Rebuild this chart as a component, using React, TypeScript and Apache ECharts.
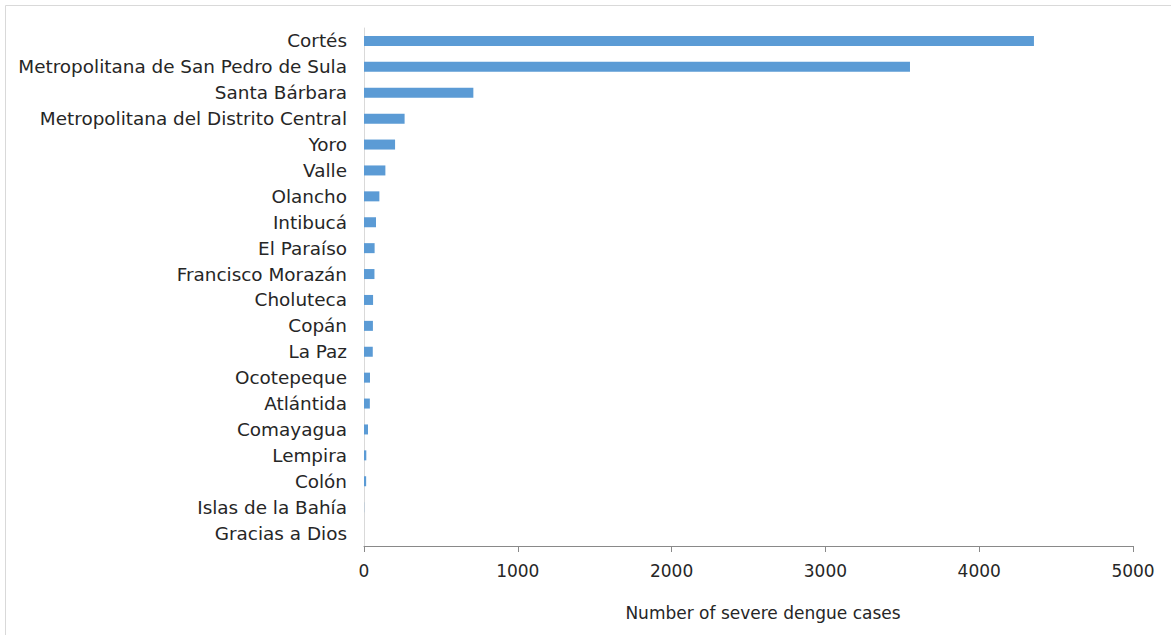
import React, { useEffect, useRef } from "react";
import * as echarts from "echarts";

const categories = [
  "Cortés",
  "Metropolitana de San Pedro de Sula",
  "Santa Bárbara",
  "Metropolitana del Distrito Central",
  "Yoro",
  "Valle",
  "Olancho",
  "Intibucá",
  "El Paraíso",
  "Francisco Morazán",
  "Choluteca",
  "Copán",
  "La Paz",
  "Ocotepeque",
  "Atlántida",
  "Comayagua",
  "Lempira",
  "Colón",
  "Islas de la Bahía",
  "Gracias a Dios",
];

const severeCases = [4356, 3550, 711, 264, 202, 139, 100, 78, 69, 68, 59, 58, 57, 39, 38, 26, 15, 14, 1, 0];

const xTicks = { min: 0, max: 5000, interval: 1000 };
const xAxisTitle = "Number of severe dengue cases";

export default function App() {
  const ref = useRef<HTMLDivElement>(null);
  useEffect(() => {
    if (!ref.current) return;
    const chart = echarts.init(ref.current, undefined, { renderer: "svg" });
    const font = "'DejaVu Sans', Verdana, sans-serif";
    chart.setOption({
      animation: false,
      backgroundColor: "#ffffff",
      textStyle: { fontFamily: font },
      grid: { left: 364, right: 38, top: 28, bottom: 89, containLabel: false },
      xAxis: {
        type: "value",
        min: xTicks.min,
        max: xTicks.max,
        interval: xTicks.interval,
        axisLine: { show: true, lineStyle: { color: "#898989", width: 1 } },
        axisTick: { show: true, length: 6, lineStyle: { color: "#898989" } },
        splitLine: { show: false },
        axisLabel: {
          color: "#262626",
          fontSize: 17,
          fontFamily: font,
          margin: 16,
          formatter: (v: number) => String(v),
        },
      },
      yAxis: {
        type: "category",
        inverse: true,
        data: categories,
        axisLine: { show: true, lineStyle: { color: "#D9D9D9", width: 1 } },
        axisTick: { show: false },
        axisLabel: { color: "#262626", fontSize: 18.4, fontFamily: font, margin: 17 },
      },
      series: [
        {
          type: "bar",
          data: severeCases,
          barWidth: 10,
          itemStyle: { color: "#5B9BD5" },
        },
      ],
      graphic: [
        {
          type: "rect",
          shape: { x: 5.5, y: 5.5, width: 1300, height: 800 },
          style: { fill: "none", stroke: "#D9D9D9", lineWidth: 1 },
          silent: true,
        },
        {
          type: "text",
          x: 763,
          y: 613,
          style: {
            text: xAxisTitle,
            fontSize: 17,
            fontFamily: font,
            fill: "#262626",
            textAlign: "center",
            textVerticalAlign: "middle",
          },
        },
      ],
    });
    return () => chart.dispose();
  }, []);
  return (
    <div
      ref={ref}
      style={{ position: "fixed", left: 0, top: 0, width: 1171, height: 635 }}
    />
  );
}
